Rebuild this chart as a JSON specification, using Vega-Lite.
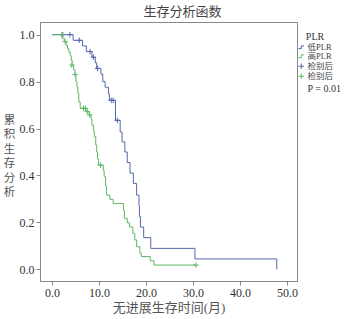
{
  "$schema": "https://vega.github.io/schema/vega-lite/v6.json",
  "width": 257,
  "height": 259,
  "autosize": {"type": "none"},
  "padding": {"left": 40, "top": 22, "right": 53, "bottom": 38},
  "background": "white",
  "title": {
    "text": "生存分析函数",
    "font": "Noto Sans CJK SC",
    "fontSize": 13,
    "fontWeight": "normal",
    "color": "#444",
    "anchor": "middle",
    "dx": 14,
    "offset": 3
  },
  "datasets": {
    "curves": [
      {"t": 0, "s": 1.0, "g": "低PLR"},
      {"t": 4.5, "s": 0.976, "g": "低PLR"},
      {"t": 6.5, "s": 0.952, "g": "低PLR"},
      {"t": 7.3, "s": 0.928, "g": "低PLR"},
      {"t": 8.5, "s": 0.904, "g": "低PLR"},
      {"t": 9.2, "s": 0.88, "g": "低PLR"},
      {"t": 9.5, "s": 0.856, "g": "低PLR"},
      {"t": 10.4, "s": 0.832, "g": "低PLR"},
      {"t": 10.8, "s": 0.8, "g": "低PLR"},
      {"t": 11.3, "s": 0.776, "g": "低PLR"},
      {"t": 12.0, "s": 0.748, "g": "低PLR"},
      {"t": 12.2, "s": 0.72, "g": "低PLR"},
      {"t": 13.5, "s": 0.635, "g": "低PLR"},
      {"t": 14.5, "s": 0.585, "g": "低PLR"},
      {"t": 14.9, "s": 0.543, "g": "低PLR"},
      {"t": 15.5, "s": 0.5, "g": "低PLR"},
      {"t": 16.0, "s": 0.455, "g": "低PLR"},
      {"t": 16.6, "s": 0.41, "g": "低PLR"},
      {"t": 17.3, "s": 0.366, "g": "低PLR"},
      {"t": 18.0, "s": 0.316, "g": "低PLR"},
      {"t": 18.5, "s": 0.27, "g": "低PLR"},
      {"t": 18.6, "s": 0.225, "g": "低PLR"},
      {"t": 18.8, "s": 0.18, "g": "低PLR"},
      {"t": 19.5, "s": 0.135, "g": "低PLR"},
      {"t": 21.0, "s": 0.089, "g": "低PLR"},
      {"t": 30.4, "s": 0.044, "g": "低PLR"},
      {"t": 47.8, "s": 0.0, "g": "低PLR"},
      {"t": 0, "s": 1.0, "g": "高PLR"},
      {"t": 2.2, "s": 0.985, "g": "高PLR"},
      {"t": 2.6, "s": 0.97, "g": "高PLR"},
      {"t": 3.0, "s": 0.955, "g": "高PLR"},
      {"t": 3.3, "s": 0.94, "g": "高PLR"},
      {"t": 3.6, "s": 0.925, "g": "高PLR"},
      {"t": 3.9, "s": 0.91, "g": "高PLR"},
      {"t": 4.1, "s": 0.89, "g": "高PLR"},
      {"t": 4.3, "s": 0.87, "g": "高PLR"},
      {"t": 4.6, "s": 0.85, "g": "高PLR"},
      {"t": 4.9, "s": 0.83, "g": "高PLR"},
      {"t": 5.1, "s": 0.8, "g": "高PLR"},
      {"t": 5.3, "s": 0.777, "g": "高PLR"},
      {"t": 5.5, "s": 0.75, "g": "高PLR"},
      {"t": 5.7, "s": 0.713, "g": "高PLR"},
      {"t": 6.0, "s": 0.686, "g": "高PLR"},
      {"t": 7.2, "s": 0.672, "g": "高PLR"},
      {"t": 7.9, "s": 0.658, "g": "高PLR"},
      {"t": 8.3, "s": 0.64, "g": "高PLR"},
      {"t": 8.5, "s": 0.615, "g": "高PLR"},
      {"t": 8.8, "s": 0.59, "g": "高PLR"},
      {"t": 9.0, "s": 0.565, "g": "高PLR"},
      {"t": 9.3, "s": 0.53, "g": "高PLR"},
      {"t": 9.5, "s": 0.5, "g": "高PLR"},
      {"t": 9.7, "s": 0.47, "g": "高PLR"},
      {"t": 9.9, "s": 0.444, "g": "高PLR"},
      {"t": 10.9, "s": 0.42, "g": "高PLR"},
      {"t": 11.1, "s": 0.394, "g": "高PLR"},
      {"t": 11.4, "s": 0.355, "g": "高PLR"},
      {"t": 11.6, "s": 0.316, "g": "高PLR"},
      {"t": 12.3, "s": 0.298, "g": "高PLR"},
      {"t": 13.0, "s": 0.28, "g": "高PLR"},
      {"t": 15.2, "s": 0.25, "g": "高PLR"},
      {"t": 15.4, "s": 0.217, "g": "高PLR"},
      {"t": 16.0, "s": 0.198, "g": "高PLR"},
      {"t": 16.5, "s": 0.18, "g": "高PLR"},
      {"t": 17.2, "s": 0.153, "g": "高PLR"},
      {"t": 17.6, "s": 0.125, "g": "高PLR"},
      {"t": 18.0, "s": 0.096, "g": "高PLR"},
      {"t": 18.7, "s": 0.068, "g": "高PLR"},
      {"t": 19.0, "s": 0.054, "g": "高PLR"},
      {"t": 20.9, "s": 0.036, "g": "高PLR"},
      {"t": 21.7, "s": 0.018, "g": "高PLR"},
      {"t": 30.6, "s": 0.018, "g": "高PLR"}
    ],
    "censor": [
      {"t": 2.3, "s": 1.0, "g": "低PLR检别后"},
      {"t": 3.8, "s": 1.0, "g": "低PLR检别后"},
      {"t": 5.8, "s": 0.976, "g": "低PLR检别后"},
      {"t": 8.1, "s": 0.928, "g": "低PLR检别后"},
      {"t": 8.8, "s": 0.904, "g": "低PLR检别后"},
      {"t": 9.7, "s": 0.856, "g": "低PLR检别后"},
      {"t": 12.6, "s": 0.72, "g": "低PLR检别后"},
      {"t": 13.0, "s": 0.72, "g": "低PLR检别后"},
      {"t": 13.9, "s": 0.635, "g": "低PLR检别后"},
      {"t": 2.1, "s": 1.0, "g": "高PLR检别后"},
      {"t": 2.8, "s": 0.97, "g": "高PLR检别后"},
      {"t": 4.2, "s": 0.87, "g": "高PLR检别后"},
      {"t": 4.9, "s": 0.83, "g": "高PLR检别后"},
      {"t": 6.7, "s": 0.686, "g": "高PLR检别后"},
      {"t": 7.1, "s": 0.686, "g": "高PLR检别后"},
      {"t": 7.5, "s": 0.672, "g": "高PLR检别后"},
      {"t": 8.0, "s": 0.658, "g": "高PLR检别后"},
      {"t": 10.3, "s": 0.444, "g": "高PLR检别后"},
      {"t": 30.6, "s": 0.018, "g": "高PLR检别后"}
    ],
    "note": [{"label": "P = 0.01"}]
  },
  "layer": [
    {
      "data": {"name": "curves"},
      "mark": {"type": "line", "interpolate": "step-after", "strokeWidth": 1},
      "encoding": {
        "x": {
          "field": "t", "type": "quantitative",
          "scale": {"domain": [-2.55, 52.1], "nice": false, "zero": false},
          "axis": {"values": [0, 10, 20, 30, 40, 50], "format": ".1f", "title": "无进展生存时间(月)", "labelPadding": 2, "titlePadding": 3}
        },
        "y": {
          "field": "s", "type": "quantitative",
          "scale": {"domain": [-0.05, 1.054], "nice": false, "zero": false},
          "axis": {
            "values": [0, 0.2, 0.4, 0.6, 0.8, 1.0], "format": ".1f",
            "title": ["累", "积", "生", "存", "分", "析"],
            "titleAngle": 0, "titleX": -31, "titleY": 98,
            "titleAlign": "center", "titleBaseline": "middle",
            "titleLineHeight": 14.5, "titleFont": "Noto Sans CJK SC", "titleFontSize": 11.5,
            "labelPadding": 2
          }
        },
        "color": {
          "field": "g", "type": "nominal", "title": "PLR",
          "scale": {"domain": ["低PLR", "高PLR", "低PLR检别后", "高PLR检别后"], "range": ["#5466ad", "#5cb866", "#5466ad", "#5cb866"]},
          "legend": {
            "orient": "none", "legendX": 257, "legendY": 10,
            "titleFontSize": 10, "titleColor": "#333", "titlePadding": 1, "titleAnchor": "middle",
            "labelFontSize": 8.5, "labelColor": "#444", "labelOffset": 2, "labelLimit": 60,
            "rowPadding": 0, "symbolSize": 30, "symbolStrokeWidth": 1,
            "labelExpr": "indexof(datum.label, '检别后') >= 0 ? '检别后' : datum.label"
          }
        },
        "detail": {"field": "g"}
      }
    },
    {
      "data": {"name": "censor"},
      "mark": {"type": "point", "filled": false, "strokeWidth": 1, "size": 30, "opacity": 1},
      "encoding": {
        "x": {"field": "t", "type": "quantitative"},
        "y": {"field": "s", "type": "quantitative"},
        "color": {
          "field": "g", "type": "nominal", "title": "PLR"
        },
        "shape": {
          "field": "g", "type": "nominal", "title": "PLR",
          "scale": {"domain": ["低PLR", "高PLR", "低PLR检别后", "高PLR检别后"], "range": ["M-1,0.5H0V-0.5H1", "M-1,0.5H0V-0.5H1", "M-1,0H1M0,-1V1", "M-1,0H1M0,-1V1"]},
          "legend": {
            "orient": "none", "legendX": 257, "legendY": 10,
            "titleFontSize": 10, "titleColor": "#333", "titlePadding": 1, "titleAnchor": "middle",
            "labelFontSize": 8.5, "labelColor": "#444", "labelOffset": 2, "labelLimit": 60,
            "rowPadding": 0, "symbolSize": 30, "symbolStrokeWidth": 1,
            "labelExpr": "indexof(datum.label, '检别后') >= 0 ? '检别后' : datum.label"
          }
        }
      }
    },
    {
      "data": {"name": "note"},
      "mark": {"type": "text", "font": "Liberation Serif", "fontSize": 10, "color": "#333", "align": "center", "baseline": "middle", "clip": false},
      "encoding": {
        "x": {"datum": 57.9, "type": "quantitative"},
        "y": {"datum": 0.77, "type": "quantitative"},
        "text": {"field": "label"}
      }
    }
  ],
  "config": {
    "view": {"stroke": "#888", "strokeWidth": 1},
    "axis": {
      "grid": false,
      "domainColor": "#888",
      "tickColor": "#888",
      "tickSize": 4,
      "labelFont": "Liberation Serif",
      "labelFontSize": 12,
      "labelColor": "#333",
      "titleFont": "Liberation Serif, Noto Sans CJK SC",
      "titleFontSize": 13,
      "titleFontWeight": "normal",
      "titleColor": "#555"
    },
    "legend": {
      "labelFont": "Liberation Serif, Noto Sans CJK SC",
      "titleFont": "Liberation Serif",
      "titleFontWeight": "normal"
    }
  }
}
